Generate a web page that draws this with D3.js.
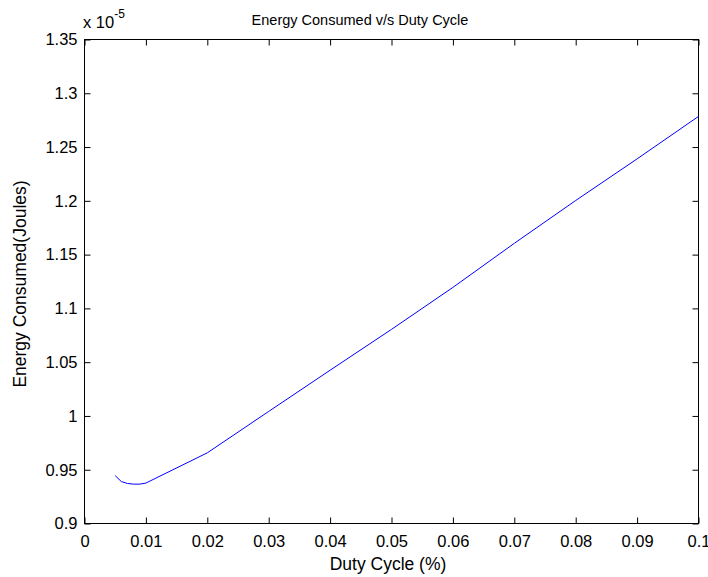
<!DOCTYPE html>
<html>
<head>
<meta charset="utf-8">
<script src="https://cdn.jsdelivr.net/npm/d3@7"></script>
<style>
  html, body { margin: 0; padding: 0; background: #fff; }
  svg { display: block; font-family: "Liberation Sans", Arial, sans-serif; }
</style>
</head>
<body>
<svg id="chart" width="708" height="577"></svg>
<script>
// Data (energy in units of 1e-5 J)
const dutyCycle = [0.005, 0.006, 0.007, 0.008, 0.009, 0.01, 0.02, 0.03, 0.04, 0.05, 0.06, 0.07, 0.08, 0.09, 0.1];
const energy    = [0.9445, 0.939, 0.9372, 0.9366, 0.9366, 0.9376, 0.9657, 1.0042, 1.0425, 1.0805, 1.1195, 1.1605, 1.2003, 1.2390, 1.2785];
const xTicks = [0, 0.01, 0.02, 0.03, 0.04, 0.05, 0.06, 0.07, 0.08, 0.09, 0.1];
const yTicks = [0.9, 0.95, 1, 1.05, 1.1, 1.15, 1.2, 1.25, 1.3, 1.35];
const titleText = "Energy Consumed v/s Duty Cycle";
const xLabelText = "Duty Cycle (%)";
const yLabelText = "Energy Consumed(Joules)";

const margin = {left: 84, top: 39};
const W = 614, H = 484;
const svg = d3.select("#chart");
const g = svg.append("g").attr("transform", `translate(${margin.left + 0.5},${margin.top + 0.5})`);

const x = d3.scaleLinear().domain([0, 0.1]).range([0, W]);
const y = d3.scaleLinear().domain([0.9, 1.35]).range([H, 0]);

const fmt = d => d === 0 ? "0" : String(+d.toFixed(3));

function styleAxis(sel, labels) {
  sel.select(".domain").remove();
  sel.selectAll(".tick line").attr("stroke", "#000");
  sel.selectAll(".tick text").attr("fill", "#000").style("font-size", labels ? "16.5px" : "0px");
}

// bottom
g.append("g").attr("transform", `translate(0,${H})`)
  .call(d3.axisBottom(x).tickValues(xTicks).tickFormat(fmt).tickSizeInner(-6).tickSizeOuter(0).tickPadding(12))
  .call(s => styleAxis(s, true));
// top
g.append("g")
  .call(d3.axisTop(x).tickValues(xTicks).tickFormat("").tickSizeInner(-6).tickSizeOuter(0))
  .call(s => styleAxis(s, false));
// left
g.append("g")
  .call(d3.axisLeft(y).tickValues(yTicks).tickFormat(fmt).tickSizeInner(-6).tickSizeOuter(0).tickPadding(7))
  .call(s => styleAxis(s, true));
// right
g.append("g").attr("transform", `translate(${W},0)`)
  .call(d3.axisRight(y).tickValues(yTicks).tickFormat("").tickSizeInner(-6).tickSizeOuter(0))
  .call(s => styleAxis(s, false));

// box
g.append("rect").attr("x", 0).attr("y", 0).attr("width", W).attr("height", H)
  .attr("fill", "none").attr("stroke", "#000").attr("stroke-width", 1);

// line
const line = d3.line().x((d, i) => x(dutyCycle[i])).y(d => y(d));
g.append("path").datum(energy).attr("d", line)
  .attr("fill", "none").attr("stroke", "#0000ff").attr("stroke-width", 1);

// exponent label
const ex = svg.append("text").attr("x", 83).attr("y", 28).attr("fill", "#000").style("font-size", "16.5px");
ex.append("tspan").text("x 10");
ex.append("tspan").attr("dy", -10).style("font-size", "12px").text("-5");

// title
svg.append("text").attr("x", 360).attr("y", 25).attr("text-anchor", "middle")
  .attr("fill", "#000").style("font-size", "14.5px").text(titleText);

// x label
svg.append("text").attr("x", 388).attr("y", 570).attr("text-anchor", "middle")
  .attr("fill", "#000").style("font-size", "17.5px").text(xLabelText);

// y label
svg.append("text").attr("transform", "translate(26,284) rotate(-90)").attr("text-anchor", "middle")
  .attr("fill", "#000").style("font-size", "17.5px").text(yLabelText);
</script>
</body>
</html>
